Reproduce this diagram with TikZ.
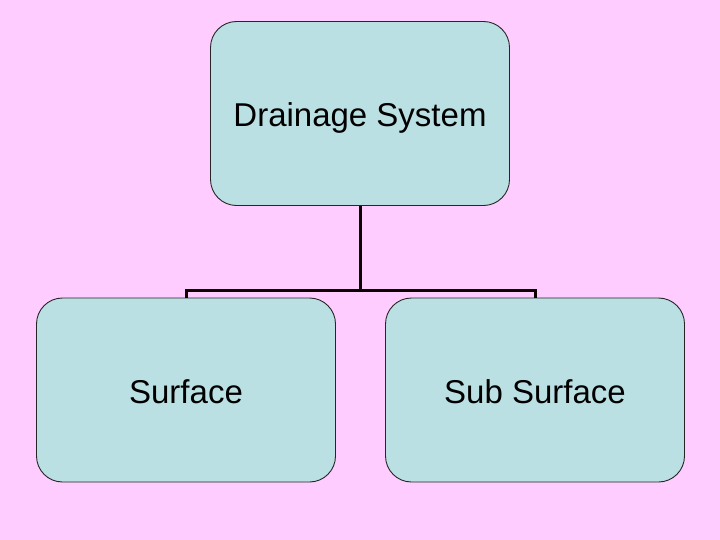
\documentclass[tikz,border=0pt]{standalone}
\usepackage{fontspec}
\setmainfont{Liberation Sans}
\definecolor{bgpink}{HTML}{FFCCFF}
\definecolor{boxcyan}{HTML}{BBE0E3}
\newcommand{\boxtext}[1]{\raisebox{-13.2pt}[0pt][0pt]{#1}}
\begin{document}
\begin{tikzpicture}[x=1pt,y=-1pt,
  box/.style={draw=black!85, line width=0.9pt, fill=boxcyan, rounded corners=26pt, minimum width=299pt, minimum height=184pt, inner sep=0pt, font=\fontsize{33}{39}\selectfont},
  conn/.style={line width=3pt, draw=black!95!red}]
\path[fill=bgpink] (0,0) rectangle (720,540);
\useasboundingbox (0,0) rectangle (720,540);
\node[box] (top) at (360,113.5) {\boxtext{Drainage System}};
\node[box] (left) at (186,390) {\boxtext{Surface}};
\node[box] (right) at (535,390) {\boxtext{Sub Surface}};
\coordinate (j) at (360,290);
\draw[conn] (top.south) -- (j);
\draw[conn] (left.north) -- (186,290) -- (535,290) -- (right.north);
\end{tikzpicture}
\end{document}
